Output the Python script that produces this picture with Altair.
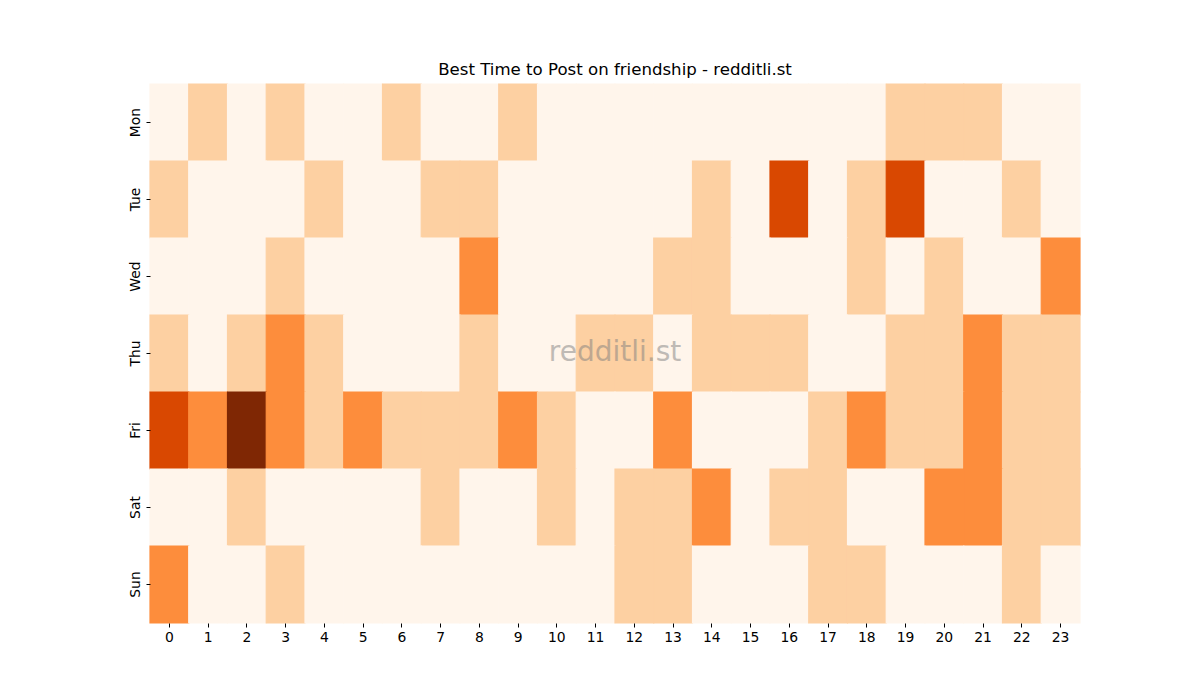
import altair as alt
import pandas as pd

days = ["Mon", "Tue", "Wed", "Thu", "Fri", "Sat", "Sun"]
hours = list(range(24))

mon = [0, 1, 0, 1, 0, 0, 1, 0, 0, 1, 0, 0, 0, 0, 0, 0, 0, 0, 0, 1, 1, 1, 0, 0]
tue = [1, 0, 0, 0, 1, 0, 0, 1, 1, 0, 0, 0, 0, 0, 1, 0, 3, 0, 1, 3, 0, 0, 1, 0]
wed = [0, 0, 0, 1, 0, 0, 0, 0, 2, 0, 0, 0, 0, 1, 1, 0, 0, 0, 1, 0, 1, 0, 0, 2]
thu = [1, 0, 1, 2, 1, 0, 0, 0, 1, 0, 0, 1, 1, 0, 1, 1, 1, 0, 0, 1, 1, 2, 1, 1]
fri = [3, 2, 4, 2, 1, 2, 1, 1, 1, 2, 1, 0, 0, 2, 0, 0, 0, 1, 2, 1, 1, 2, 1, 1]
sat = [0, 0, 1, 0, 0, 0, 0, 1, 0, 0, 1, 0, 1, 1, 2, 0, 1, 1, 0, 0, 2, 2, 1, 1]
sun = [2, 0, 0, 1, 0, 0, 0, 0, 0, 0, 0, 0, 1, 1, 0, 0, 0, 1, 1, 0, 0, 0, 1, 0]

levels = [0, 1, 2, 3, 4]
level_colors = ["#fff5eb", "#fdd0a2", "#fd8d3c", "#d94801", "#7f2704"]

rows = []
for d, vals in zip(days, [mon, tue, wed, thu, fri, sat, sun]):
    for h, v in zip(hours, vals):
        rows.append({"day": d, "hour": h, "value": v})
df = pd.DataFrame(rows)

FONT = "DejaVu Sans"

heat = alt.Chart(df).mark_rect(strokeWidth=1.2, opacity=1, strokeOpacity=1).encode(
    x=alt.X("hour:O", sort=hours, title=None,
            scale=alt.Scale(paddingInner=0, paddingOuter=0),
            axis=alt.Axis(labelAngle=0, domain=False, tickSize=4, tickColor="#000",
                          labelFontSize=13.9, labelFont=FONT, labelColor="#000",
                          labelPadding=3, grid=False)),
    y=alt.Y("day:O", sort=days, title=None,
            scale=alt.Scale(paddingInner=0, paddingOuter=0),
            axis=alt.Axis(labelAngle=270, labelAlign="center", labelBaseline="bottom",
                          domain=False, tickSize=4, tickColor="#000",
                          labelFontSize=13.9, labelFont=FONT, labelColor="#000",
                          labelPadding=4, grid=False)),
    color=alt.Color("value:O", scale=alt.Scale(domain=levels, range=level_colors), legend=None),
    stroke=alt.Stroke("value:O", scale=alt.Scale(domain=levels, range=level_colors), legend=None),
)

mark = alt.Chart(pd.DataFrame({"t": ["redditli.st"]})).mark_text(
    fontSize=28, font=FONT, color="#808080", opacity=0.5, align="center", baseline="middle"
).encode(text="t:N", x=alt.value(465), y=alt.value(269))

chart = alt.layer(heat, mark).properties(
    width=930, height=539,
    title=alt.Title("Best Time to Post on friendship - redditli.st", font=FONT, fontSize=16.6,
                    fontWeight="normal", color="#000", anchor="middle", offset=5),
    autosize=alt.AutoSizeParams(type="none"),
    padding={"left": 142, "top": 76, "right": 112, "bottom": 60},
).configure_view(stroke=None)

chart.save("out.html", embed_options={"renderer": "svg", "actions": False})
